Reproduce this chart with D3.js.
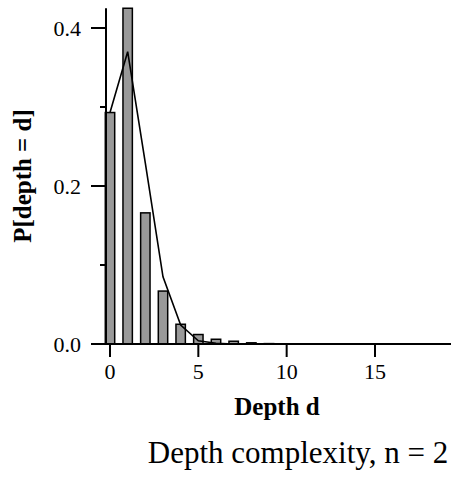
<!DOCTYPE html>
<meta charset="utf-8">
<style>
body { margin: 0; background: #fff; }
svg { display: block; }
text { font-family: "Liberation Serif", "Times New Roman", serif; fill: #000; }
.tick-label { font-size: 22px; }
.axis-title { font-size: 25px; font-weight: bold; }
.chart-title { font-size: 31px; }
.bar { fill: #999; stroke: #000; stroke-width: 1.5px; }
.fit { fill: none; stroke: #000; stroke-width: 1.6px; }
.axis line { stroke: #000; stroke-width: 2px; }
</style>
<svg width="451" height="477"></svg>
<script src="https://d3js.org/d3.v7.min.js"></script>
<script>

// observed distribution of depth d (bars) and model (line)
const depths = d3.range(0, 20);
const observed = [0.293, 0.425, 0.166, 0.067, 0.025, 0.012, 0.006, 0.0035, 0.0015, 0.0005,
                  0, 0, 0, 0, 0, 0, 0, 0, 0, 0];
const model = [0.293, 0.37, 0.229, 0.085, 0.024, 0.004, 0.001, 0, 0, 0,
               0, 0, 0, 0, 0, 0, 0, 0, 0, 0];

const xTicks = [0, 5, 10, 15];
const yMajor = [0, 0.2, 0.4];
const yMinor = [0.1, 0.3];

const svg = d3.select('svg');

const x = d3.scaleLinear().domain([0, 15]).range([110, 375]);
const y = d3.scaleLinear().domain([0, 0.4]).range([344, 28]);
const yTop = 0.425;
const barW = 9.4;
const axisX = 106;

// bars
svg.selectAll('.bar')
  .data(depths)
  .enter().append('rect')
    .attr('class', 'bar')
    .attr('x', d => x(d) - barW / 2)
    .attr('width', barW)
    .attr('y', d => y(observed[d]))
    .attr('height', d => y(0) - y(observed[d]));

// model line
const line = d3.line()
  .x(d => x(d))
  .y(d => y(model[d]));

svg.append('path')
  .attr('class', 'fit')
  .attr('d', line(depths));

// y axis
const ya = svg.append('g').attr('class', 'axis');
ya.append('line')
  .attr('x1', axisX).attr('x2', axisX)
  .attr('y1', y(0)).attr('y2', y(yTop));
ya.selectAll('.major')
  .data(yMajor)
  .enter().append('line')
    .attr('x1', axisX - 15).attr('x2', axisX)
    .attr('y1', d => y(d)).attr('y2', d => y(d));
ya.selectAll('.minor')
  .data(yMinor)
  .enter().append('line')
    .attr('x1', axisX - 6).attr('x2', axisX)
    .attr('y1', d => y(d)).attr('y2', d => y(d));
ya.selectAll('text')
  .data(yMajor)
  .enter().append('text')
    .attr('class', 'tick-label')
    .attr('x', axisX - 25)
    .attr('y', d => y(d))
    .attr('dy', '0.35em')
    .attr('text-anchor', 'end')
    .text(d3.format('.1f'));

// x axis
const xa = svg.append('g').attr('class', 'axis');
xa.append('line')
  .attr('x1', axisX).attr('x2', 451)
  .attr('y1', y(0)).attr('y2', y(0));
xa.selectAll('.xt')
  .data(xTicks)
  .enter().append('line')
    .attr('x1', d => x(d)).attr('x2', d => x(d))
    .attr('y1', y(0)).attr('y2', y(0) + 13);
xa.selectAll('text')
  .data(xTicks)
  .enter().append('text')
    .attr('class', 'tick-label')
    .attr('x', d => x(d))
    .attr('y', y(0) + 35)
    .attr('text-anchor', 'middle')
    .text(d => d);

// titles
svg.append('text')
  .attr('class', 'axis-title')
  .attr('transform', 'translate(31,176) rotate(-90)')
  .attr('text-anchor', 'middle')
  .text('P[depth = d]');

svg.append('text')
  .attr('class', 'axis-title')
  .attr('x', 277)
  .attr('y', 415)
  .attr('text-anchor', 'middle')
  .text('Depth d');

svg.append('text')
  .attr('class', 'chart-title')
  .attr('x', 298)
  .attr('y', 463)
  .attr('text-anchor', 'middle')
  .text('Depth complexity, n = 2');
</script>
